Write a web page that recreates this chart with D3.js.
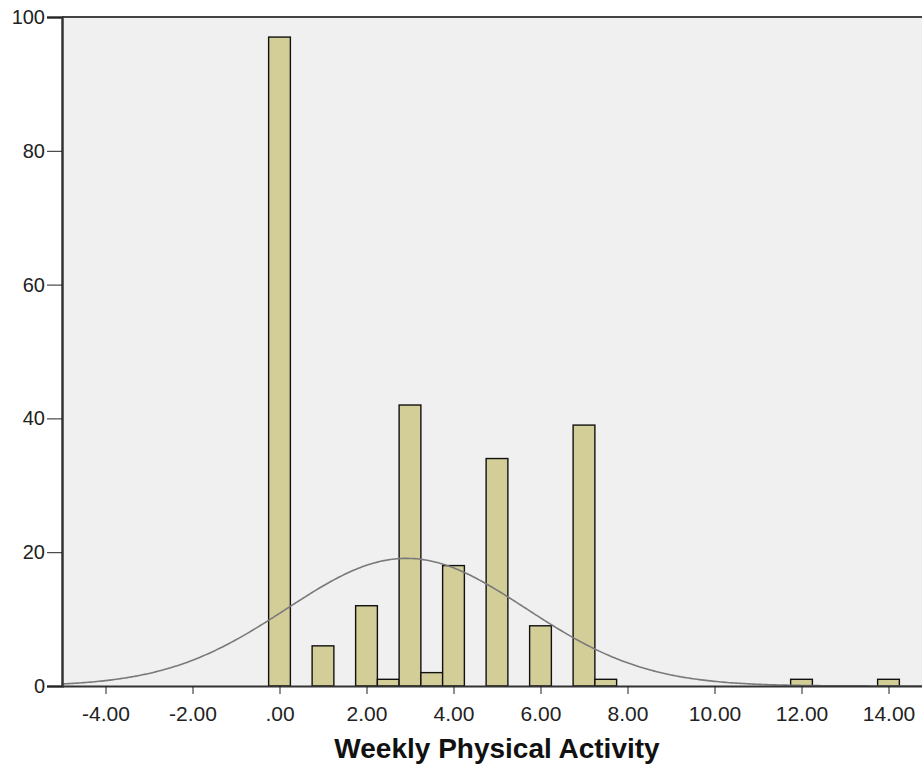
<!DOCTYPE html>
<html>
<head>
<meta charset="utf-8">
<script src="https://cdn.jsdelivr.net/npm/d3@7"></script>
<style>
  body { margin: 0; background: #fff; }
  svg { display: block; font-family: "Liberation Sans", Arial, sans-serif; }
</style>
</head>
<body>
<div id="graph"></div>
<script>
// histogram bins (bin centre, count), bin width 0.5
var binCenters = [0, 1, 2, 2.5, 3, 3.5, 4, 5, 6, 7, 7.5, 12, 14];
var binCounts  = [97, 6, 12, 1, 42, 2, 18, 34, 9, 39, 1, 1, 1];
var binWidth = 0.5;

// fitted normal curve (as shown by SPSS)
var curveMean = 2.92, curveSd = 2.75, curveN = 263;

var xTicks = [-4, -2, 0, 2, 4, 6, 8, 10, 12, 14];
var xTickLabels = ["-4.00", "-2.00", ".00", "2.00", "4.00", "6.00", "8.00", "10.00", "12.00", "14.00"];
var yTicks = [0, 20, 40, 60, 80, 100];

var W = 922, H = 769;
var margin = { top: 17, right: -10, bottom: 83, left: 62 },
    width  = W - margin.left - margin.right,
    height = H - margin.top - margin.bottom;

var svg = d3.select("#graph")
  .append("svg")
    .attr("width", W)
    .attr("height", H)
  .append("g")
    .attr("transform", `translate(${margin.left}, ${margin.top})`);

var x = d3.scaleLinear().domain([-5, 15]).range([0, width]);
var y = d3.scaleLinear().domain([0, 100]).range([height, 0]);

// plot background
svg.append("rect")
  .attr("x", 0).attr("y", 0)
  .attr("width", width).attr("height", height)
  .attr("fill", "#f0f0f0");

// bars
svg.selectAll(".bar")
  .data(binCenters.map((c, i) => ({ c: c, n: binCounts[i] })))
  .enter()
  .append("rect")
    .attr("class", "bar")
    .attr("x", d => x(d.c - binWidth / 2))
    .attr("width", d => x(d.c + binWidth / 2) - x(d.c - binWidth / 2))
    .attr("y", d => y(d.n))
    .attr("height", d => y(0) - y(d.n))
    .attr("fill", "#d3ce97")
    .attr("stroke", "#111")
    .attr("stroke-width", 1.4);

// normal curve
var curveXs = d3.range(-5, 15.01, 0.05);
var curve = d3.line()
  .x(v => x(v))
  .y(v => y(curveN * binWidth * Math.exp(-0.5 * ((v - curveMean) / curveSd) ** 2) / (curveSd * Math.sqrt(2 * Math.PI))));
svg.append("path")
  .attr("d", curve(curveXs))
  .attr("fill", "none")
  .attr("stroke", "#7a7a7a")
  .attr("stroke-width", 1.6);

// top frame line
svg.append("line")
  .attr("x1", 0).attr("x2", width)
  .attr("y1", 0).attr("y2", 0)
  .attr("stroke", "#444").attr("stroke-width", 2);

// y axis
var yAxisG = svg.append("g")
  .call(d3.axisLeft(y).tickValues(yTicks).tickSize(15).tickPadding(2));
yAxisG.select(".domain").attr("stroke", "#333").attr("stroke-width", 2.5);
yAxisG.selectAll(".tick line").attr("stroke", "#222");
yAxisG.selectAll("text")
  .style("font-size", "20px")
  .style("font-family", "Liberation Sans, Arial, sans-serif")
  .attr("fill", "#222");

// x axis
var xAxisG = svg.append("g")
  .attr("transform", `translate(0, ${height})`)
  .call(d3.axisBottom(x).tickValues(xTicks).tickFormat((d, i) => xTickLabels[i]).tickSize(8).tickSizeOuter(0).tickPadding(12));
xAxisG.select(".domain").attr("stroke", "#333").attr("stroke-width", 2);
xAxisG.selectAll(".tick line").attr("stroke", "#222");
xAxisG.selectAll("text")
  .style("font-size", "21px")
  .style("font-family", "Liberation Sans, Arial, sans-serif")
  .attr("fill", "#222");

// axis title
svg.append("text")
  .attr("text-anchor", "middle")
  .attr("x", (331 + 663) / 2 - margin.left)
  .attr("y", height + 72)
  .style("font-size", "28px")
  .style("font-weight", "bold")
  .attr("fill", "#111")
  .text("Weekly Physical Activity");
</script>
</body>
</html>
